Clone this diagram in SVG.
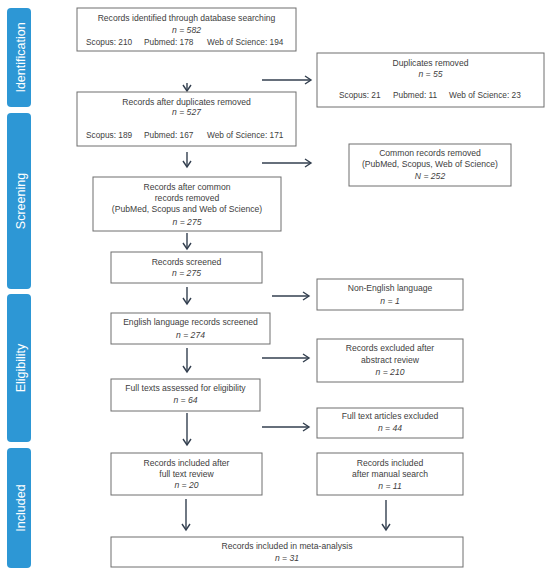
<svg xmlns="http://www.w3.org/2000/svg" width="550" height="577" viewBox="0 0 550 577">
<defs>
<marker id="ah" markerUnits="userSpaceOnUse" markerWidth="10" markerHeight="12" refX="7" refY="5" orient="auto">
<path d="M1,1 L7,5 L1,9" fill="none" stroke="#333f4f" stroke-width="1.4"/>
</marker>
<style>
.bar{fill:#2d97d5}
.bt{fill:#ffffff;font-family:"Liberation Sans",Arial,sans-serif;font-size:12.5px;text-anchor:middle}
.box{fill:#ffffff;stroke:#6e6e6e;stroke-width:1}
.t{fill:#404040;font-family:"Liberation Sans",Arial,sans-serif;font-size:8.6px;text-anchor:middle}
.s{text-anchor:start;font-size:8.3px}
.i{font-style:italic}
.c{stroke:#333f4f;stroke-width:1.4;fill:none;marker-end:url(#ah)}
</style>
</defs>
<rect width="550" height="577" fill="#ffffff"/>
<g id="phases">
<g id="phase-identification"><rect class="bar" x="7" y="8" width="24" height="99" rx="4"/><text class="bt" transform="translate(24.5,57.5) rotate(-90)">Identification</text></g>
<g id="phase-screening"><rect class="bar" x="7" y="113" width="24" height="176" rx="4"/><text class="bt" transform="translate(24.5,201) rotate(-90)">Screening</text></g>
<g id="phase-eligibility"><rect class="bar" x="7" y="294" width="24" height="148" rx="4"/><text class="bt" transform="translate(24.5,368) rotate(-90)">Eligibility</text></g>
<g id="phase-included"><rect class="bar" x="7" y="448" width="24" height="120" rx="4"/><text class="bt" transform="translate(24.5,508) rotate(-90)">Included</text></g>
</g>
<g id="connectors">
<line class="c" x1="187" y1="83" x2="187" y2="91"/>
<line class="c" x1="262" y1="80" x2="311" y2="80"/>
<line class="c" x1="187" y1="152" x2="187" y2="167"/>
<line class="c" x1="262" y1="163" x2="311" y2="163"/>
<line class="c" x1="187" y1="233" x2="187" y2="249"/>
<line class="c" x1="187" y1="287" x2="187" y2="304"/>
<line class="c" x1="272" y1="296" x2="309" y2="296"/>
<line class="c" x1="187" y1="348" x2="187" y2="372"/>
<line class="c" x1="262" y1="358" x2="309" y2="358"/>
<line class="c" x1="187" y1="413" x2="187" y2="445"/>
<line class="c" x1="262" y1="427" x2="309" y2="427"/>
<line class="c" x1="186" y1="499" x2="186" y2="530"/>
<line class="c" x1="386" y1="500" x2="386" y2="530"/>
</g>
<g id="n1"><rect class="box" x="77" y="8" width="219" height="43"/>
<text class="t" x="186.5" y="21">Records identified through database searching</text>
<text class="t i" x="186.5" y="33">n = 582</text>
<text class="t s" x="86" y="45">Scopus: 210</text><text class="t s" x="144" y="45">Pubmed: 178</text><text class="t s" x="207" y="45">Web of Science: 194</text></g>
<g id="n2"><rect class="box" x="317" y="53" width="227" height="54"/>
<text class="t" x="430.5" y="66">Duplicates removed</text>
<text class="t i" x="430.5" y="77">n = 55</text>
<text class="t s" x="339" y="98">Scopus: 21</text><text class="t s" x="393" y="98">Pubmed: 11</text><text class="t s" x="449" y="98">Web of Science: 23</text></g>
<g id="n3"><rect class="box" x="77" y="92" width="219" height="54"/>
<text class="t" x="186.5" y="105">Records after duplicates removed</text>
<text class="t i" x="186.5" y="115">n = 527</text>
<text class="t s" x="86" y="138">Scopus: 189</text><text class="t s" x="144" y="138">Pubmed: 167</text><text class="t s" x="207" y="138">Web of Science: 171</text></g>
<g id="n4"><rect class="box" x="349" y="144" width="162" height="42"/>
<text class="t" x="430" y="156">Common records removed</text>
<text class="t" x="430" y="167">(PubMed, Scopus, Web of Science)</text>
<text class="t i" x="430" y="179">N = 252</text></g>
<g id="n5"><rect class="box" x="93" y="177" width="188" height="54"/>
<text class="t" x="187" y="190">Records after common</text>
<text class="t" x="187" y="201">records removed</text>
<text class="t" x="187" y="212">(PubMed, Scopus and Web of Science)</text>
<text class="t i" x="187" y="225">n = 275</text></g>
<g id="n6"><rect class="box" x="111" y="252" width="151" height="31"/>
<text class="t" x="186.5" y="265">Records screened</text>
<text class="t i" x="186.5" y="276">n = 275</text></g>
<g id="n7"><rect class="box" x="317" y="279" width="146" height="31"/>
<text class="t" x="390" y="291">Non-English language</text>
<text class="t i" x="390" y="304">n = 1</text></g>
<g id="n8"><rect class="box" x="111" y="313" width="159" height="31"/>
<text class="t" x="190.5" y="325">English language records screened</text>
<text class="t i" x="190.5" y="338">n = 274</text></g>
<g id="n9"><rect class="box" x="317" y="339" width="146" height="43"/>
<text class="t" x="390" y="351">Records excluded after</text>
<text class="t" x="390" y="363">abstract review</text>
<text class="t i" x="390" y="375">n = 210</text></g>
<g id="n10"><rect class="box" x="111" y="379" width="149" height="32"/>
<text class="t" x="185.5" y="391">Full texts assessed for eligibility</text>
<text class="t i" x="185.5" y="403">n = 64</text></g>
<g id="n11"><rect class="box" x="317" y="408" width="146" height="30"/>
<text class="t" x="390" y="419">Full text articles excluded</text>
<text class="t i" x="390" y="431">n = 44</text></g>
<g id="n12"><rect class="box" x="111" y="453" width="151" height="42"/>
<text class="t" x="186.5" y="466">Records included after</text>
<text class="t" x="186.5" y="477">full text review</text>
<text class="t i" x="186.5" y="488">n = 20</text></g>
<g id="n13"><rect class="box" x="317" y="453" width="146" height="42"/>
<text class="t" x="390" y="466">Records included</text>
<text class="t" x="390" y="477">after manual search</text>
<text class="t i" x="390" y="489">n = 11</text></g>
<g id="n14"><rect class="box" x="111" y="537" width="352" height="30"/>
<text class="t" x="287" y="549">Records included in meta-analysis</text>
<text class="t i" x="287" y="561">n = 31</text></g>
</svg>
